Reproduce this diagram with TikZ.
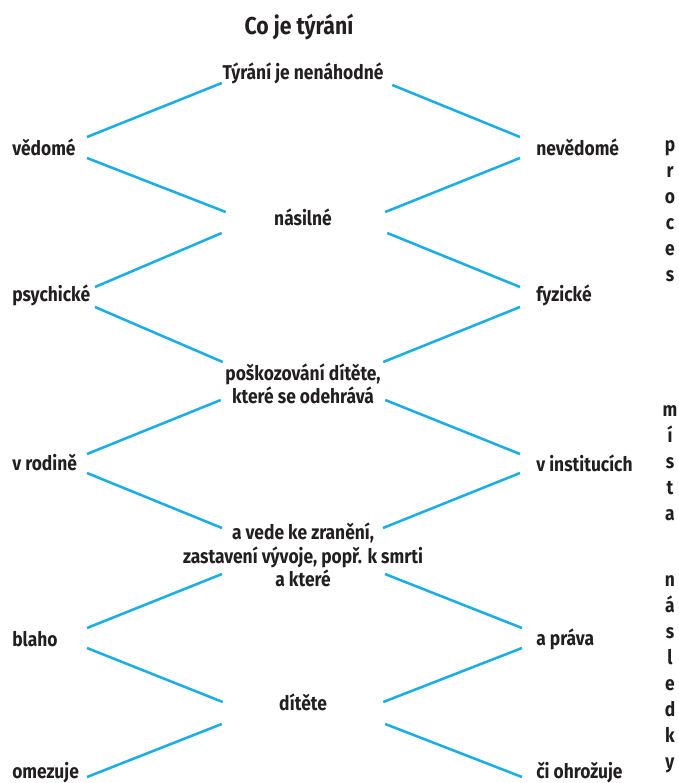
\documentclass[tikz,border=0pt]{standalone}
\usepackage{fontspec}
\newfontfamily\diagfont{Fira Sans}[FakeStretch=0.87]
\usepackage{tikz}
\usetikzlibrary{calc}

\definecolor{linkblue}{RGB}{27,173,230}
\definecolor{textgray}{RGB}{35,31,32}

\tikzset{
  word/.style={font=\diagfont\bfseries\fontsize{15}{17.5}\selectfont, text=textgray, inner sep=0pt},
  middleword/.style={word, align=center, minimum width=121.5pt},
  leftword/.style={word, anchor=west},
  rightword/.style={word, anchor=west, inner xsep=12pt},
  letters/.style={word, align=center, font=\diagfont\bfseries\fontsize{15}{19.5}\selectfont},
  link/.style={draw=linkblue, line width=1.9pt}
}

\begin{document}
\begin{tikzpicture}[x=0.75pt,y=0.75pt,yscale=-1,xscale=1]
                \useasboundingbox (0,0) rectangle (679,783);

                % Title
                \node [word, font=\diagfont\bfseries\fontsize{18.3}{20}\selectfont] (title) at (299,27) {Co je týrání};

                % Text Node
                \node [middleword] (tyrani) at (303,73) {Týrání je nenáhodné};
                \node [middleword] (nasilne) at (303,217) {násilné};
                \node [middleword] (poskozovani) at (303,384) {poškozování dítěte,\\které se odehrává};
                \node [middleword] (vede) at (303,555) {a vede ke zranění,\\zastavení vývoje, popř. k smrti\\a které};
                \node [middleword] (ditete) at (303,702) {dítěte};

                % Text Node
                \node [leftword] (vedome) at (12,147) {vědomé};
                \node [leftword] (psychicke) at (12,295) {psychické};
                \node [leftword] (rodine) at (12,463) {v rodině};
                \node [leftword] (blaho) at (12,639) {blaho};
                \node [leftword] (omezuje) at (12,773) {omezuje};

                % Text Node
                \node [rightword] (nevedome) at (520,147) {nevědomé};
                \node [rightword] (fyzicke) at (520,295) {fyzické};
                \node [rightword] (instituce) at (520,463) {v institucích};
                \node [rightword] (prava) at (520,639) {a práva};
                \node [rightword] (ohrozuje) at (520,773) {či ohrožuje};

                % Text Node
                \node [letters] (proces) at (670,211) {p\\r\\o\\c\\e\\s};
                \node [letters] (mista) at (670,463) {m\\í\\s\\t\\a};
                \node [letters] (nasledky) at (670,674) {n\\á\\s\\l\\e\\d\\k\\y};

                %Straight Lines
                \draw [link] ($(tyrani.west)+(0,10)$) -- ($(vedome.west)+(75,-10)$);
                \draw [link] ($(tyrani.east)+(8,12)$) -- ($(nevedome.west)+(0,-10)$);
                \draw [link] ($(vedome.west)+(75,11)$) -- ($(nasilne.west)+(4,-5)$);
                \draw [link] ($(nevedome.west)+(0,11)$) -- ($(nasilne.east)+(1,-5)$);
                %Straight Lines
                \draw [link] ($(nasilne.west)+(0,16)$) -- ($(psychicke.west)+(83,-8)$);
                \draw [link] ($(nasilne.east)+(3,16)$) -- ($(fyzicke.west)+(0,-8)$);
                \draw [link] ($(psychicke.west)+(83,12)$) -- ($(poskozovani.west)+(1,-22)$);
                \draw [link] ($(fyzicke.west)+(0,12)$) -- ($(poskozovani.east)+(-1,-22)$);
                %Straight Lines
                \draw [link] ($(poskozovani.west)+(-1,16)$) -- ($(rodine.west)+(75,-9)$);
                \draw [link] ($(poskozovani.east)+(1,16)$) -- ($(instituce.west)+(0,-9)$);
                \draw [link] ($(rodine.west)+(75,10)$) -- ($(vede.center)+(-81,-27)$);
                \draw [link] ($(instituce.west)+(0,10)$) -- ($(vede.center)+(80,-27)$);
                %Straight Lines
                \draw [link] ($(vede.center)+(-81,19)$) -- ($(blaho.west)+(75,-11)$);
                \draw [link] ($(vede.center)+(82,19)$) -- ($(prava.west)+(2,-11)$);
                \draw [link] ($(blaho.west)+(75,9)$) -- ($(ditete.west)+(1,0)$);
                \draw [link] ($(prava.west)+(2,9)$) -- ($(ditete.east)+(-1,0)$);
                \draw [link] ($(ditete.west)+(0,22)$) -- ($(omezuje.west)+(75,4)$);
                \draw [link] ($(ditete.east)+(1,22)$) -- ($(ohrozuje.west)+(2,4)$);

\end{tikzpicture}
\end{document}
